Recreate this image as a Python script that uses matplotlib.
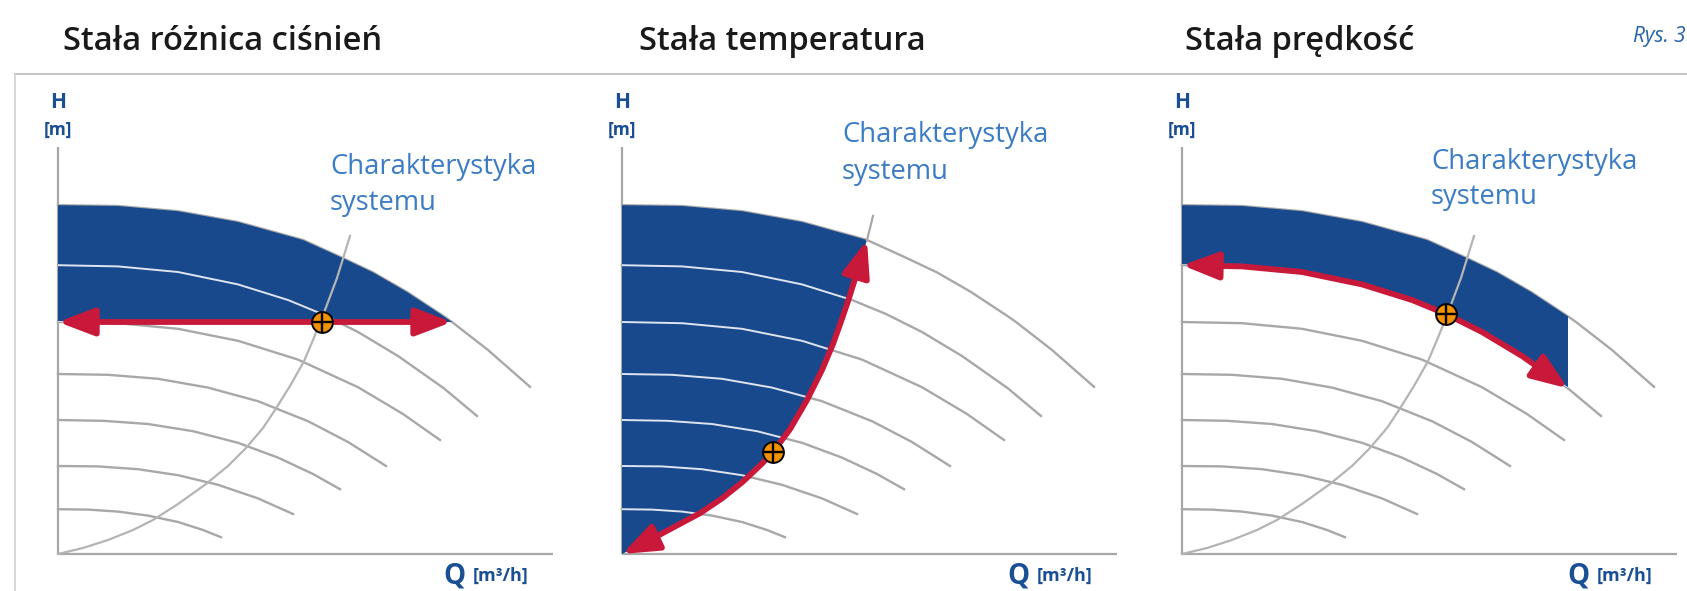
import matplotlib
matplotlib.use('Agg')
import matplotlib.pyplot as plt
from matplotlib.patches import Polygon, FancyArrowPatch
from matplotlib.path import Path
from matplotlib.lines import Line2D

# pump curves for falling speeds (Q [m3/h], H [m])
q1 = [0, 1.2, 2.4, 3.6, 4.9, 5.64, 6.3, 6.98, 7.72, 7.88, 8.6, 9.44]
h1 = [8.72, 8.7, 8.57, 8.3, 7.85, 7.43, 7.04, 6.55, 5.94, 5.8, 5.1, 4.18]
q2 = [0, 1.2, 2.4, 3.6, 4.6, 5.28, 6.0, 6.8, 7.72, 8.38]
h2 = [7.22, 7.19, 7.05, 6.74, 6.35, 6.0, 5.55, 4.95, 4.14, 3.45]
q3 = [0, 1.2, 2.4, 3.6, 4.8, 6.0, 6.9, 7.64]
h3 = [5.8, 5.77, 5.63, 5.33, 4.86, 4.17, 3.5, 2.85]
q4 = [0, 1.0, 2.0, 3.0, 4.0, 5.0, 5.8, 6.56]
h4 = [4.5, 4.48, 4.38, 4.16, 3.82, 3.32, 2.8, 2.2]
q5 = [0, 0.9, 1.8, 2.7, 3.6, 4.4, 5.1, 5.64]
h5 = [3.35, 3.33, 3.25, 3.07, 2.78, 2.41, 2.0, 1.62]
q6 = [0, 0.8, 1.6, 2.4, 3.2, 4.0, 4.7]
h6 = [2.2, 2.19, 2.12, 1.97, 1.73, 1.39, 1.0]
q7 = [0, 0.6, 1.2, 1.8, 2.4, 2.9, 3.26]
h7 = [1.12, 1.11, 1.06, 0.96, 0.8, 0.6, 0.42]
pump = [(q1, h1), (q2, h2), (q3, h3), (q4, h4), (q5, h5), (q6, h6), (q7, h7)]

# system characteristic (panels 1 and 3)
q_sys = [0, 0.5, 1.0, 1.5, 1.9, 2.4, 2.96, 3.4, 3.76, 4.1, 4.34, 4.64, 4.92, 5.1, 5.28, 5.58, 5.84]
h_sys = [0, 0.15, 0.35, 0.6, 0.85, 1.25, 1.75, 2.2, 2.65, 3.15, 3.6, 4.2, 4.82, 5.35, 5.9, 6.9, 7.95]
# characteristic followed at constant temperature (panel 2)
q_temp = [0, 0.4, 0.9, 1.56, 2.0, 2.42, 2.8, 3.02, 3.36, 3.7, 4.0, 4.22, 4.4, 4.52, 4.72, 4.9, 5.02]
h_temp = [0, 0.24, 0.58, 1.02, 1.39, 1.81, 2.26, 2.55, 3.12, 3.85, 4.6, 5.25, 5.88, 6.32, 7.11, 7.85, 8.45]

h_const = 5.8   # head kept by the constant dp control
duty = [(5.28, 5.8), (3.02, 2.55), (5.28, 6.0)]

titles = ['Stała różnica ciśnień', 'Stała temperatura', 'Stała prędkość']

W, H = 1687, 591
FONT = 'Open Sans'
BLUE = '#17498c'
RED = '#c8193a'
GREY = '#a8a8a8'
TXT_BLUE = '#3b7cc4'
AX_BLUE = '#1b4f93'

fig = plt.figure(figsize=(W / 100, H / 100), dpi=100)
fig.patch.set_facecolor('white')

# frame lines
fig.add_artist(Line2D([15 / W, 1], [1 - 74 / H, 1 - 74 / H], color='#c4c4c4', lw=1.5,
                      transform=fig.transFigure))
fig.add_artist(Line2D([15 / W, 15 / W], [0, 1 - 74 / H], color='#d0d0d0', lw=1.2,
                      transform=fig.transFigure))

title_x = [63, 639, 1185]
for tx, t in zip(title_x, titles):
    fig.text(tx / W, 1 - 50 / H, t, fontsize=23.5, family=FONT, weight='semibold',
             color='#1a1a1a', va='baseline')
fig.text(1633 / W, 1 - 42 / H, 'Rys. 3', fontsize=15, family=FONT, style='italic',
         color='#2563a8', va='baseline')

origins = [58, 622, 1182]
label_pos = [(5.44, 9.68, 8.78), (4.4, 10.48, 9.55), (4.98, 9.8, 8.93)]

for i, ox in enumerate(origins):
    ax = fig.add_axes([(ox - 50) / W, 1 / H, 560 / W, 516 / H])
    ax.set_xlim(-1, 10.2)
    ax.set_ylim(-0.9, 12.0)
    ax.axis('off')

    # axes
    ax.plot([0, 0], [0, 10.18], color='#a8a8a8', lw=1.6, zorder=1, solid_capstyle='butt')
    ax.plot([0, 9.9], [0, 0], color='#a8a8a8', lw=1.6, zorder=1, solid_capstyle='butt')

    for q, h in pump:
        ax.plot(q, h, color=GREY, lw=1.7, zorder=1, solid_joinstyle='round')

    # operating band
    if i == 0:
        verts = list(zip(q1[:10], h1[:10])) + [(0, h_const)]
        red = [(0, h_const), (q1[9], h_const)]
    elif i == 1:
        verts = list(zip(q1[:5], h1[:5])) + list(zip(q_temp[:16], h_temp[:16]))[::-1]
        red = list(zip(q_temp[:16], h_temp[:16]))
    else:
        verts = list(zip(q1[:9], h1[:9])) + list(zip(q2[:9], h2[:9]))[::-1]
        red = list(zip(q2[:9], h2[:9]))
    band = Polygon(verts, closed=True, facecolor=BLUE, edgecolor='none', zorder=2)
    ax.add_patch(band)
    for q, h in pump[1:]:
        ln, = ax.plot(q, h, color='#dfe4ee', lw=1.4, zorder=2.5, solid_joinstyle='round')
        ln.set_clip_path(band)

    if i == 1:
        ax.plot(q_temp[15:], h_temp[15:], color=GREY, lw=1.6, zorder=3)
    else:
        ax.plot(q_sys, h_sys, color='#b4b4b4', lw=1.6, zorder=3, solid_joinstyle='round')

    arr = FancyArrowPatch(path=Path(red), arrowstyle='<|-|>,head_length=1.0,head_width=0.38',
                          mutation_scale=22, color=RED, lw=4.2, zorder=4,
                          joinstyle='round', capstyle='butt')
    ax.add_patch(arr)

    dq, dh = duty[i]
    ax.plot(dq, dh, 'o', ms=15, mfc='#f39200', mec='black', mew=1.4, zorder=5)
    ax.plot(dq, dh, '+', ms=14, mec='black', mew=1.7, zorder=6)

    lx, ly1, ly2 = label_pos[i]
    ax.text(lx, ly1, 'Charakterystyka', fontsize=19.7, family=FONT, color=TXT_BLUE, va='center')
    ax.text(lx, ly2, 'systemu', fontsize=19.7, family=FONT, color=TXT_BLUE, va='center')

    ax.text(0, 11.28, 'H', fontsize=15, family=FONT, weight='bold', color=AX_BLUE,
            ha='center', va='center')
    ax.text(0, 10.6, '[m]', fontsize=12.5, family=FONT, weight='bold', color=AX_BLUE,
            ha='center', va='center')
    ax.text(7.7, -0.55, 'Q', fontsize=20, family=FONT, weight='bold', color=AX_BLUE,
            va='center')
    ax.text(8.3, -0.55, '[m³/h]', fontsize=13, family=FONT, weight='bold', color=AX_BLUE,
            va='center')

fig.savefig('out.png', dpi=100, facecolor='white')
